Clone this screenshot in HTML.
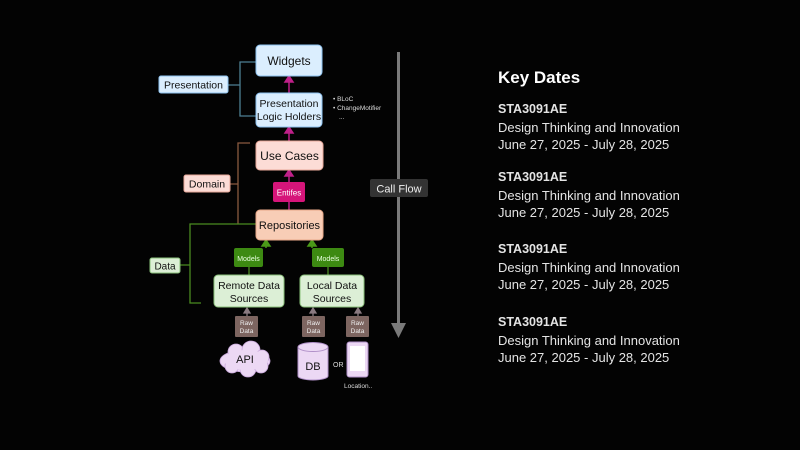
<!DOCTYPE html>
<html><head><meta charset="utf-8"><style>
html,body{margin:0;padding:0;background:#000;}
body{width:800px;height:450px;overflow:hidden;position:relative;font-family:"Liberation Sans",sans-serif;}
.t{position:absolute;left:498px;color:#e4e4e4;font-size:13px;line-height:17.5px;}
.t b{font-size:12.5px;}
</style></head><body>
<svg width="800" height="450" viewBox="0 0 800 450" style="position:absolute;left:0;top:0" font-family="Liberation Sans, sans-serif">
<rect width="800" height="450" fill="#030303"/>
<g stroke="#4d7f93" stroke-width="1.3" fill="none">
<path d="M256 62H240V116H256M228 85H240"/>
</g>
<g stroke="#8a5a40" stroke-width="1.3" fill="none">
<path d="M250 143H238V224M230 184H238"/>
</g>
<g stroke="#4a8a20" stroke-width="1.3" fill="none">
<path d="M256 224H190V303H201M180 265H190"/>
<path d="M249 267V275M328 267V275"/>
</g>
<g stroke="#c0208a" stroke-width="1.5" fill="#c0208a">
<path d="M289 93V81"/><path d="M285 82L289 76L293 82Z"/>
<path d="M289 141V132"/><path d="M285 133L289 127L293 133Z"/>
<path d="M289 182V175"/><path d="M285 176L289 170L293 176Z"/>
<path d="M289 210V202"/>
</g>
<g stroke="#4a9a18" stroke-width="1.5" fill="#4a9a18">
<path d="M266 248V245"/><path d="M262 246L266 240L270 246Z"/>
<path d="M312 248V245"/><path d="M308 246L312 240L316 246Z"/>
</g>
<g stroke="#8a7a80" stroke-width="1.3" fill="#8a7a80">
<path d="M247 316V312"/><path d="M244 313L247 308L250 313Z"/>
<path d="M313 316V312"/><path d="M310 313L313 308L316 313Z"/>
<path d="M358 316V312"/><path d="M355 313L358 308L361 313Z"/>
</g>
<rect x="256" y="45" width="66" height="31" rx="4" fill="#dbeefe" stroke="#8ec3f0"/>
<text x="289" y="65" font-size="12" text-anchor="middle" fill="#111">Widgets</text>
<rect x="256" y="93" width="66" height="34" rx="4" fill="#dbeefe" stroke="#8ec3f0"/>
<text x="289" y="107" font-size="10.5" text-anchor="middle" fill="#111">Presentation</text>
<text x="289" y="120" font-size="10.5" text-anchor="middle" fill="#111">Logic Holders</text>
<rect x="159" y="76" width="69" height="17" rx="2" fill="#dbeefe" stroke="#8ec3f0"/>
<text x="193.5" y="88.5" font-size="10.5" text-anchor="middle" fill="#111">Presentation</text>
<g font-size="6.5" fill="#ddd"><text x="333" y="101">• BLoC</text><text x="333" y="110">• ChangeMotifier</text><text x="339" y="119">...</text></g>
<rect x="256" y="141" width="67" height="29" rx="4" fill="#fcdcd6" stroke="#e9a99a"/>
<text x="289.5" y="160" font-size="12" text-anchor="middle" fill="#111">Use Cases</text>
<rect x="184" y="175" width="46" height="17" rx="2" fill="#fcdcd6" stroke="#e9a99a"/>
<text x="207" y="187.5" font-size="10.5" text-anchor="middle" fill="#111">Domain</text>
<rect x="273" y="182" width="32" height="20" rx="2" fill="#d6157a"/>
<text x="289" y="195.5" font-size="8" text-anchor="middle" fill="#fff">Entifes</text>
<rect x="256" y="210" width="67" height="30" rx="4" fill="#f8cdb6" stroke="#e8a888"/>
<text x="289.5" y="229" font-size="11" text-anchor="middle" fill="#111">Repositories</text>
<rect x="150" y="258" width="30" height="15" rx="2" fill="#dcefd6" stroke="#8ac07a"/>
<text x="165" y="269.5" font-size="10" text-anchor="middle" fill="#111">Data</text>
<rect x="234" y="248" width="29" height="19" rx="2" fill="#3d8a12"/>
<text x="248.5" y="261" font-size="7" text-anchor="middle" fill="#e8ffe0">Models</text>
<rect x="312" y="248" width="32" height="19" rx="2" fill="#3d8a12"/>
<text x="328" y="261" font-size="7" text-anchor="middle" fill="#e8ffe0">Models</text>
<rect x="214" y="275" width="70" height="32" rx="4" fill="#dcefd6" stroke="#8ac07a"/>
<text x="249" y="289" font-size="10.5" text-anchor="middle" fill="#111">Remote Data</text>
<text x="249" y="302" font-size="10.5" text-anchor="middle" fill="#111">Sources</text>
<rect x="300" y="275" width="64" height="32" rx="4" fill="#dcefd6" stroke="#8ac07a"/>
<text x="332" y="289" font-size="10.5" text-anchor="middle" fill="#111">Local Data</text>
<text x="332" y="302" font-size="10.5" text-anchor="middle" fill="#111">Sources</text>
<g fill="#7d6560"><rect x="235" y="316" width="23" height="21" rx="1"/><rect x="302" y="316" width="23" height="21" rx="1"/><rect x="346" y="316" width="23" height="21" rx="1"/></g>
<g font-size="6.5" fill="#eee" text-anchor="middle">
<text x="246.5" y="325">Raw</text><text x="246.5" y="333">Data</text>
<text x="313.5" y="325">Raw</text><text x="313.5" y="333">Data</text>
<text x="357.5" y="325">Raw</text><text x="357.5" y="333">Data</text>
</g>
<g fill="#ecd8f4" stroke="#c9a8dc" stroke-width="0.8">
<ellipse cx="245" cy="361" rx="25" ry="11"/>
<circle cx="236" cy="352" r="8"/><circle cx="251" cy="350" r="9"/><circle cx="262" cy="357" r="7"/>
<circle cx="232" cy="366" r="7"/><circle cx="248" cy="369" r="8"/><circle cx="261" cy="366" r="7"/>
</g>
<ellipse cx="246" cy="360" rx="22" ry="10" fill="#ecd8f4"/>
<text x="245" y="363" font-size="11" text-anchor="middle" fill="#111">API</text>
<path d="M298 347V376A15 4 0 0 0 328 376V347" fill="#ecd8f4" stroke="#b090c8"/>
<ellipse cx="313" cy="347" rx="15" ry="4.5" fill="#ecd8f4" stroke="#b090c8"/>
<text x="313" y="370" font-size="11" text-anchor="middle" fill="#111">DB</text>
<text x="333" y="367" font-size="7" fill="#ddd">OR</text>
<rect x="347" y="342" width="21" height="35" rx="2.5" fill="#ecd8f4" stroke="#b090c8"/>
<rect x="350" y="346" width="15" height="25" fill="#fff"/>
<text x="344" y="388" font-size="6.5" fill="#ddd">Location..</text>
<rect x="397" y="52" width="3" height="272" fill="#7a7a7a"/>
<path d="M391 323L406 323L398.5 338Z" fill="#7a7a7a"/>
<rect x="370" y="179" width="58" height="18" rx="2" fill="#333"/>
<text x="399" y="192.5" font-size="11" text-anchor="middle" fill="#eee">Call Flow</text>
</svg>
<div class="t" style="top:69px;font-size:17px;font-weight:bold;color:#fff">Key Dates</div>
<div class="t" style="top:100px"><b>STA3091AE</b><br>Design Thinking and Innovation<br>June 27, 2025 - July 28, 2025</div>
<div class="t" style="top:168px"><b>STA3091AE</b><br>Design Thinking and Innovation<br>June 27, 2025 - July 28, 2025</div>
<div class="t" style="top:240px"><b>STA3091AE</b><br>Design Thinking and Innovation<br>June 27, 2025 - July 28, 2025</div>
<div class="t" style="top:313px"><b>STA3091AE</b><br>Design Thinking and Innovation<br>June 27, 2025 - July 28, 2025</div>
</body></html>
